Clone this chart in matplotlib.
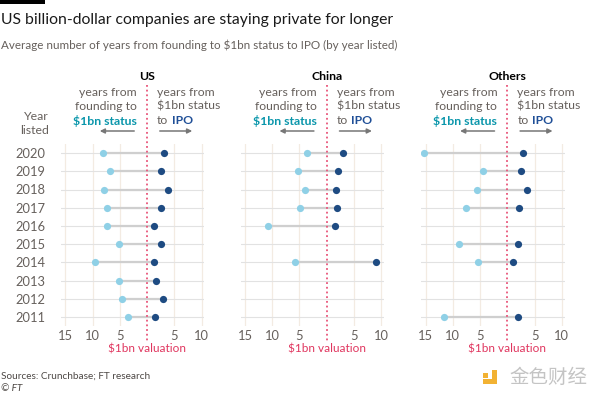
import numpy as np
import matplotlib
matplotlib.use("Agg")
import matplotlib.pyplot as plt
from matplotlib.lines import Line2D
from matplotlib.patches import Rectangle, FancyArrowPatch

# data (years; nan = no listing that year)
years = [2020, 2019, 2018, 2017, 2016, 2015, 2014, 2013, 2012, 2011]
regions = ["US", "China", "Others"]
nan = np.nan
us_to_1bn = [8.1, 6.7, 7.8, 7.3, 7.3, 5.1, 9.5, 5.1, 4.6, 3.4]
us_to_ipo = [3.2, 2.6, 3.9, 2.5, 1.2, 2.5, 1.2, 1.6, 3.0, 1.4]
china_to_1bn = [3.6, 5.3, 4.0, 4.9, 10.8, nan, 5.9, nan, nan, nan]
china_to_ipo = [2.9, 2.1, 1.7, 1.8, 1.6, nan, 9.0, nan, nan, nan]
others_to_1bn = [15.2, 4.4, 5.6, 7.6, nan, 8.8, 5.3, nan, nan, 11.7]
others_to_ipo = [2.9, 2.5, 3.7, 2.2, nan, 1.9, 1.0, nan, nan, 1.9]
tick_vals = [-15, -10, -5, 5, 10]
tick_labels = ["15", "10", "5", "5", "10"]

to_1bn = [us_to_1bn, china_to_1bn, others_to_1bn]
to_ipo = [us_to_ipo, china_to_ipo, others_to_ipo]

plt.rcParams['font.family'] = ['Lato', 'DejaVu Sans']

W, H = 600, 399
def fx(x):
    return x / W
def fy(y):
    return 1 - y / H

grey = '#66605c'
light = '#8fd0e6'
dark = '#1e4b82'
teal = '#0a96ab'
navy = '#1f4f97'
red = '#e8557a'

fig = plt.figure(figsize=(6, 3.99), dpi=100)

# header
fig.add_artist(Rectangle((0, fy(3.5)), fx(45), 3.5 / H, transform=fig.transFigure,
                         color='black', lw=0))
fig.text(fx(1), fy(20), "US billion-dollar companies are staying private for longer",
         fontsize=11.3, color='#1a1a1a', va='center', ha='left')
fig.text(fx(1), fy(45), "Average number of years from founding to $1bn status to IPO (by year listed)",
         fontsize=8.4, color=grey, va='center', ha='left')

zeros = [147, 326.7, 507.3]
xmin, xmax = -15.8, 10.5
scale = 5.45  # px per year

for i, reg in enumerate(regions):
    x0 = zeros[i]
    left = x0 + xmin * scale
    ax = fig.add_axes([fx(left), fy(326), (xmax - xmin) * scale / W, 182 / H])
    ax.set_xlim(xmin, xmax)
    ax.set_ylim(2010.5, 2020.5)
    for s in ax.spines.values():
        s.set_visible(False)
    ax.set_xticks(tick_vals)
    ax.set_xticklabels(tick_labels)
    ax.grid(axis='x', color='#f3ebe2', lw=0.9)
    ax.set_axisbelow(True)
    ax.set_yticks(years)
    if i == 0:
        ax.set_yticklabels([str(y) for y in years])
    else:
        ax.set_yticklabels([])
    ax.tick_params(length=0, labelsize=9.3, colors=grey, pad=3)
    ax.tick_params(axis='y', pad=11)
    for y in years:
        ax.axhline(y, color='#e2e2e2', lw=0.8, zorder=1)
    a = -np.array(to_1bn[i])
    b = np.array(to_ipo[i])
    ax.hlines(years, a, b, color='#cfcfcf', lw=1.6, zorder=2)
    ax.scatter(a, years, s=27, color=light, zorder=3, lw=0)
    ax.scatter(b, years, s=27, color=dark, zorder=3, lw=0)

    # panel heading and explanations
    fig.text(fx(x0), fy(77), reg, fontsize=8.8, fontweight='bold', color='black',
             ha='center', va='center')
    fig.text(fx(x0 - 10), fy(92), "years from", fontsize=8.8, color=grey, ha='right', va='center')
    fig.text(fx(x0 - 10), fy(106), "founding to", fontsize=8.8, color=grey, ha='right', va='center')
    fig.text(fx(x0 - 10), fy(121), "$1bn status", fontsize=8.8, color=teal, fontweight='bold',
             ha='right', va='center')
    fig.text(fx(x0 + 10), fy(92), "years from", fontsize=8.8, color=grey, ha='left', va='center')
    fig.text(fx(x0 + 10), fy(106), "$1bn status", fontsize=8.8, color=grey, ha='left', va='center')
    t = fig.text(fx(x0 + 10), fy(121), "to", fontsize=8.8, color=grey, ha='left', va='center')
    ax.annotate("IPO", xy=(1, 0), xycoords=t, xytext=(2.5, 0), textcoords='offset points',
                fontsize=8.8, color=navy, fontweight='bold', ha='left', va='bottom',
                annotation_clip=False)
    fig.add_artist(FancyArrowPatch((fx(x0 - 10), fy(131)), (fx(x0 - 50), fy(131)),
                                   transform=fig.transFigure, arrowstyle='-|>',
                                   mutation_scale=7, color='#777777', lw=1.1))
    fig.add_artist(FancyArrowPatch((fx(x0 + 10), fy(131)), (fx(x0 + 48), fy(131)),
                                   transform=fig.transFigure, arrowstyle='-|>',
                                   mutation_scale=7, color='#777777', lw=1.1))
    fig.add_artist(Line2D([fx(x0), fx(x0)], [fy(85), fy(341)], ls=(0, (1, 1.6)),
                          lw=1.3, color=red, zorder=5))
    fig.text(fx(x0), fy(348.5), "$1bn valuation", fontsize=8.5, color='#e0365f',
             ha='center', va='center')

fig.text(fx(49), fy(117), "Year", fontsize=8.8, color=grey, ha='right', va='center')
fig.text(fx(49), fy(131), "listed", fontsize=8.8, color=grey, ha='right', va='center')

# footer
fig.text(fx(1), fy(376.5), "Sources: Crunchbase; FT research", fontsize=7.2, color='#4d4845',
         ha='left', va='center')
fig.text(fx(1), fy(388.5), "© FT", fontsize=7.2, color='#4d4845', style='italic',
         ha='left', va='center')

# watermark
yel = '#f2b233'
for (x1, y1, x2, y2) in [(483.3, 372.5, 488.3, 377.7), (491.7, 369.5, 496.7, 383.5),
                         (483.3, 379.3, 496.7, 383.5)]:
    fig.add_artist(Rectangle((fx(x1), fy(y2)), (x2 - x1) / W, (y2 - y1) / H,
                             transform=fig.transFigure, color=yel, lw=0))
fig.text(fx(509), fy(377.5), "金色财经", fontsize=14, color='#c4c4c4',
         family=['Noto Sans CJK SC', 'DejaVu Sans'], ha='left', va='center')

fig.savefig("out.png", dpi=100)
